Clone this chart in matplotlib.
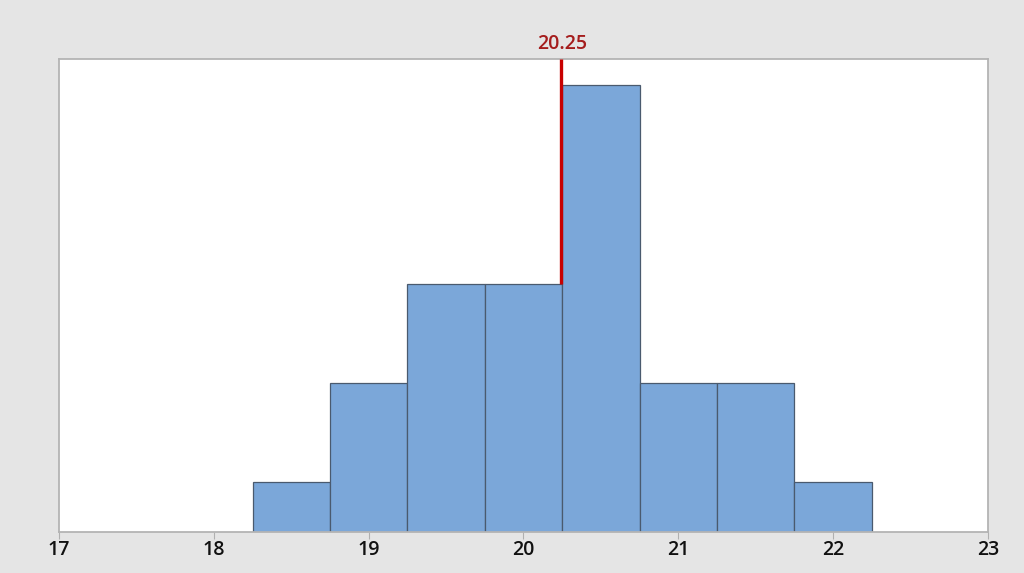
import matplotlib.pyplot as plt

plt.rcParams['font.family'] = ['Open Sans', 'DejaVu Sans']

# histogram data (bin centers, counts)
bin_centers = [18.5, 19.0, 19.5, 20.0, 20.5, 21.0, 21.5, 22.0]
counts = [1, 2, 3, 3, 5, 2, 2, 1]
bin_width = 0.5
ref_value = 20.25
ref_label = '20.25'
xticks = [17, 18, 19, 20, 21, 22, 23]

fig = plt.figure(figsize=(10.24, 5.73), dpi=100)
fig.patch.set_facecolor('#e5e5e5')
ax = fig.add_axes([59/1024, 1 - 532/573, (988 - 59)/1024, (532 - 59)/573])

ax.bar(bin_centers, counts, width=bin_width, color='#7ba7d9',
       edgecolor='#4a5a6e', linewidth=0.9, zorder=2)

# reference line from the bar top up to the frame
h_at_ref = counts[bin_centers.index(20.0)]
ax.plot([ref_value - 0.005, ref_value - 0.005], [h_at_ref, 5.26], color='#c80000',
        linewidth=2.4, zorder=3, clip_on=False, solid_capstyle='butt')
ax.text(ref_value, 5.31, ref_label, color='#a51d1d', fontsize=14,
        fontweight='semibold', ha='center', va='bottom')

ax.set_xlim(17, 23)
ax.set_ylim(0.5, 5.26)
ax.set_xticks(xticks)
ax.set_xticklabels([str(t) for t in xticks], fontsize=14, fontweight='semibold')
ax.set_yticks([])
ax.tick_params(axis='x', length=5, color='#b0b0b0', pad=1, labelcolor='#111111')
for s in ax.spines.values():
    s.set_color('#b4b4b4')
    s.set_linewidth(1.3)

fig.savefig('out.png', dpi=100, facecolor=fig.get_facecolor())
